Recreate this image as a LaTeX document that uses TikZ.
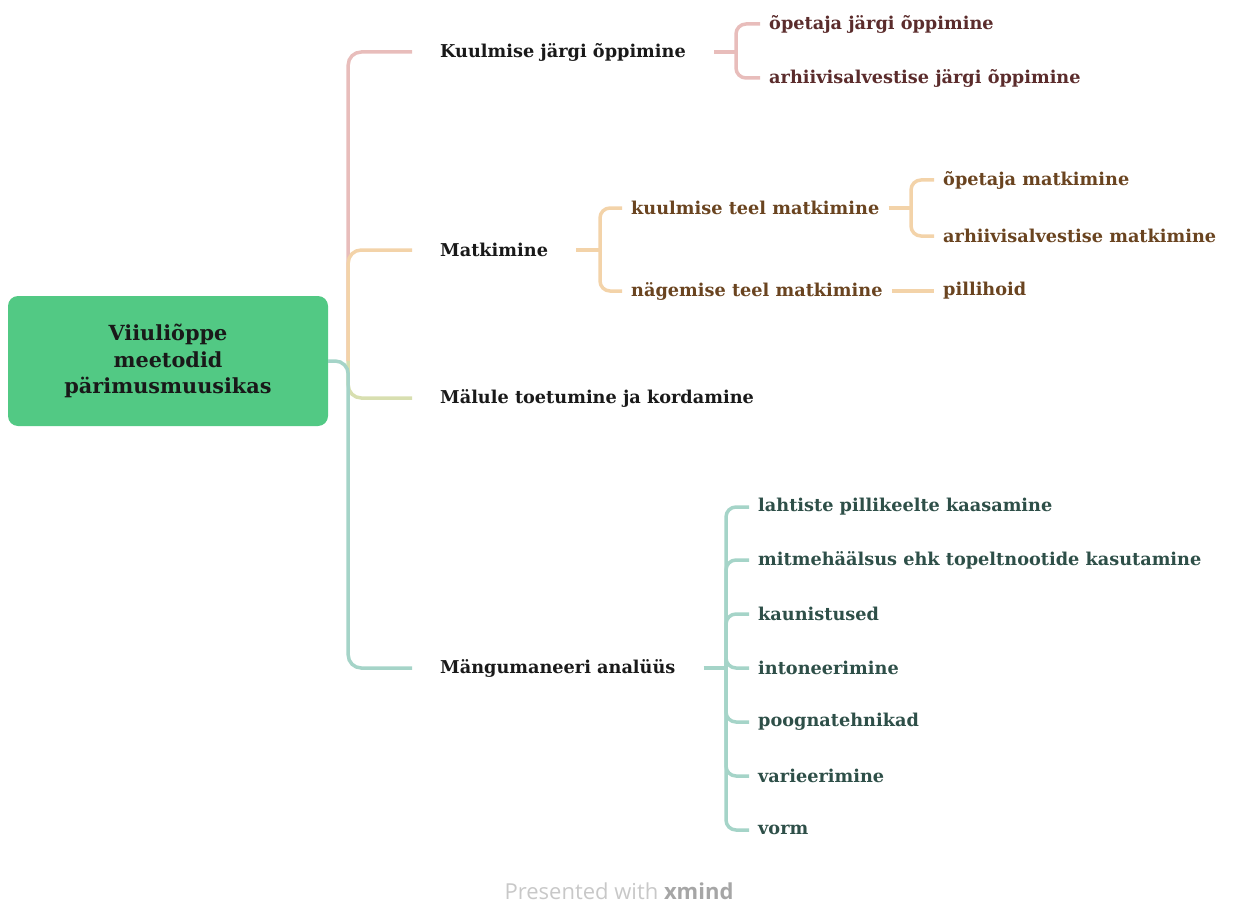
\documentclass[tikz,border=0pt]{standalone}
\usepackage{fontspec}
\setmainfont{DejaVu Serif}
\newfontfamily\footfont{Open Sans}
\usepackage{tikz}
\usetikzlibrary{
  positioning,
  calc
}

\definecolor{rootgreen}{HTML}{52C984}
\definecolor{pinkline}{HTML}{E8BDBB}
\definecolor{pinktext}{HTML}{5B2C2C}
\definecolor{orangeline}{HTML}{F3D3A9}
\definecolor{orangetext}{HTML}{6A4420}
\definecolor{oliveline}{HTML}{D8DFB0}
\definecolor{tealline}{HTML}{A5D4C8}
\definecolor{tealtext}{HTML}{2E4F48}
\definecolor{footgray}{HTML}{C8C8C8}

\begin{document}
\begin{tikzpicture}[
      x=1pt,y=-1pt,
      root/.style={
         rectangle,
         rounded corners=10pt,
         fill=rootgreen,
         minimum width=320pt,
         minimum height=130pt,
         align=center,
         font=\fontsize{20.8}{26.5}\selectfont\bfseries,
         text=black!90
      },
      topic/.style={
         anchor=west,
         inner xsep=28pt,
         inner ysep=2pt,
         font=\fontsize{17.7}{20}\selectfont\bfseries,
         text=black!90
      },
      sub/.style={
         anchor=west,
         inner xsep=9pt,
         inner ysep=2pt,
         font=\fontsize{17.7}{20}\selectfont\bfseries
      },
      branch/.style={line width=3.5pt,rounded corners=13pt},
      brace/.style={line width=3.5pt,rounded corners=10pt}
    ]
    \useasboundingbox (0,0) rectangle (1233,904);

    \node (n0) [root] at (168,361) {Viiuliõppe\\meetodid\\pärimusmuusikas};
    \coordinate (t0) at ([xshift=20pt]n0.east);

    \node (n1) [topic] at (412,52) {Kuulmise järgi õppimine};
    \node (n2) [topic] at (412,250) {Matkimine};
    \node (n3) [topic] at (412,398) {Mälule toetumine ja kordamine};
    \node (n4) [topic] at (412,668) {Mängumaneeri analüüs};

    \draw[branch,pinkline] (t0) |- (n1.west);
    \draw[branch,orangeline] (t0) |- (n2.west);
    \draw[branch,oliveline] (t0) |- (n3.west);
    \draw[branch,tealline] (n0.east) -- (t0) |- (n4.west);

    % Kuulmise järgi õppimine
    \coordinate (b1) at (736,52);
    \node (n11) [sub,text=pinktext] at (760,24) {õpetaja järgi õppimine};
    \node (n12) [sub,text=pinktext] at (760,78) {arhiivisalvestise järgi õppimine};
    \draw[brace,pinkline] (n1.east) -- (b1);
    \foreach \c in {n11,n12}
       \draw[brace,pinkline] (b1) |- (\c.west);

    % Matkimine
    \coordinate (b2) at (600,250);
    \node (n21) [sub,text=orangetext] at (622,208) {kuulmise teel matkimine};
    \node (n22) [sub,text=orangetext] at (622,291) {nägemise teel matkimine};
    \draw[brace,orangeline] (n2.east) -- (b2);
    \foreach \c in {n21,n22}
       \draw[brace,orangeline] (b2) |- (\c.west);

    \coordinate (b21) at (911,208);
    \node (n211) [sub,text=orangetext] at (934,180) {õpetaja matkimine};
    \node (n212) [sub,text=orangetext] at (934,236) {arhiivisalvestise matkimine};
    \draw[brace,orangeline] (n21.east) -- (b21);
    \foreach \c in {n211,n212}
       \draw[brace,orangeline] (b21) |- (\c.west);

    \node (n221) [sub,text=orangetext] at (934,291) {pillihoid};
    \draw[brace,orangeline] (n22.east) -- (n221.west);

    % Mängumaneeri analüüs
    \coordinate (b4) at (726,668);
    \node (n41) [sub,text=tealtext] at (749,507) {lahtiste pillikeelte kaasamine};
    \node (n42) [sub,text=tealtext] at (749,560) {mitmehäälsus ehk topeltnootide kasutamine};
    \node (n43) [sub,text=tealtext] at (749,614) {kaunistused};
    \node (n44) [sub,text=tealtext] at (749,668) {intoneerimine};
    \node (n45) [sub,text=tealtext] at (749,722) {poognatehnikad};
    \node (n46) [sub,text=tealtext] at (749,776) {varieerimine};
    \node (n47) [sub,text=tealtext] at (749,830) {vorm};
    \draw[brace,tealline] (n4.east) -- (b4);
    \foreach \c in {n41,n42,n43,n44,n45,n46,n47}
       \draw[brace,tealline] (b4) |- (\c.west);

    \node (foot) [anchor=base,inner sep=0pt] at (619,899) {\footfont\fontsize{22}{26}\selectfont\color{footgray}Presented with \textbf{\color{black!35}xmind}};
\end{tikzpicture}
\end{document}
